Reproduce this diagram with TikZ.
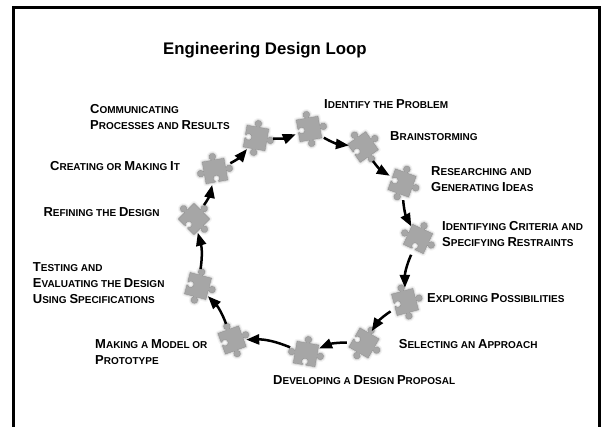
\documentclass[tikz,border=0pt]{standalone}
\usepackage{fontspec}
\setmainfont{Liberation Sans}
\usetikzlibrary{arrows.meta}
\definecolor{piecegray}{RGB}{156,156,156}
\newcommand\capL[1]{{\fontsize{13}{16}\selectfont #1}}
\tikzset{
  jig/.style={insert path={(-1,-1) -- (-0.2,-1) -- (-0.15,-1.05) arc[start angle=117, end angle=423, radius=0.3] -- (0.2,-1) -- (1,-1)
     -- (1,-0.2) -- (1.05,-0.15) arc[start angle=-153, end angle=153, radius=0.3] -- (1,0.2) -- (1,1)
     -- (0.2,1) -- (0.15,1.05) arc[start angle=-63, end angle=243, radius=0.3] -- (-0.2,1) -- (-1,1)
     -- (-1,0.2) -- (-0.95,0.15) arc[start angle=153, end angle=-153, radius=0.3] -- (-1,-0.2) -- cycle}},
  piece/.pic={
    \path[jig, draw=black!12, line width=5pt, opacity=0.35, line join=round];
    \path[jig, draw=black!25, line width=2.5pt, opacity=0.5, line join=round];
    \path[jig, fill=piecegray, draw=piecegray!85!black, line width=0.3pt, line join=round];
    \path[jig, fill=white, opacity=0.1, scale=0.7];
  },
  pc/.style={circle, minimum size=28pt, inner sep=0pt},
  arr/.style={line width=2.5pt, -{Triangle[length=13pt,width=10pt]}, shorten <=3pt},
  lbl/.style={anchor=base west, inner sep=0pt, align=left, font=\fontsize{10}{16}\selectfont\bfseries},
}
\begin{document}
\begin{tikzpicture}[x=1pt,y=-1pt]
\useasboundingbox (0,0) rectangle (604,427);
\draw[line width=3pt] (13.5,440) -- (13.5,8) -- (599.5,8) -- (599.5,440);
\node[anchor=base west, inner sep=0pt, font=\fontsize{16.8}{20}\selectfont\bfseries] (title) at (163,55) {Engineering Design Loop};
% pieces
\node[pc] (p1) at (309,129) {};
\node[pc] (p2) at (363,147) {};
\node[pc] (p3) at (402,183) {};
\node[pc] (p4) at (418,239) {};
\node[pc] (p5) at (405,302) {};
\node[pc] (p6) at (364,343) {};
\node[pc] (p7) at (306,354) {};
\node[pc] (p8) at (232,340) {};
\node[pc] (p9) at (198,286) {};
\node[pc] (p10) at (194,219) {};
\node[pc] (p11) at (215,171) {};
\node[pc] (p12) at (256,138) {};
\pic[rotate=10, scale=11] at (p1) {piece};
\pic[rotate=35, scale=11] at (p2) {piece};
\pic[rotate=-20, scale=11] at (p3) {piece};
\pic[rotate=65, scale=11] at (p4) {piece};
\pic[rotate=15, scale=11] at (p5) {piece};
\pic[rotate=-30, scale=11] at (p6) {piece};
\pic[rotate=80, scale=11] at (p7) {piece};
\pic[rotate=20, scale=11] at (p8) {piece};
\pic[rotate=-15, scale=11] at (p9) {piece};
\pic[rotate=45, scale=11] at (p10) {piece};
\pic[rotate=100, scale=11] at (p11) {piece};
\pic[rotate=-10, scale=11] at (p12) {piece};
% arrows
\draw[arr] (p12) to[bend right=12] (p1);
\draw[arr] (p1) to[bend right=12] (p2);
\draw[arr] (p2) to[bend right=12] (p3);
\draw[arr] (p3) to[bend right=12] (p4);
\draw[arr] (p4) to[bend right=12] (p5);
\draw[arr] (p5) to[bend right=12] (p6);
\draw[arr] (p6) to[bend right=12] (p7);
\draw[arr] (p7) to[bend right=12] (p8);
\draw[arr] (p8) to[bend right=12] (p9);
\draw[arr] (p9) to[bend right=12] (p10);
\draw[arr] (p10) to[bend right=12] (p11);
\draw[arr] (p11) to[bend right=12] (p12);
% labels (base = last line)
\node[lbl] (t1) at (324,108.3) {\capL{I}DENTIFY THE \capL{P}ROBLEM};
\node[lbl] (t2) at (390,140.5) {\capL{B}RAINSTORMING};
\node[lbl] (t3) at (431,191.7) {\capL{R}ESEARCHING AND\\\capL{G}ENERATING \capL{I}DEAS};
\node[lbl] (t4) at (442,246.7) {\capL{I}DENTIFYING \capL{C}RITERIA AND\\\capL{S}PECIFYING \capL{R}ESTRAINTS};
\node[lbl] (t5) at (427,302.3) {\capL{E}XPLORING \capL{P}OSSIBILITIES};
\node[lbl] (t6) at (398.7,348) {\capL{S}ELECTING AN \capL{A}PPROACH};
\node[lbl] (t7) at (273,384.7) {\capL{D}EVELOPING A \capL{D}ESIGN \capL{P}ROPOSAL};
\node[lbl] (t8) at (95,364) {\capL{M}AKING A \capL{M}ODEL OR\\\capL{P}ROTOTYPE};
\node[lbl] (t9) at (32.7,303.3) {\capL{T}ESTING AND\\\capL{E}VALUATING THE \capL{D}ESIGN\\\capL{U}SING \capL{S}PECIFICATIONS};
\node[lbl] (t10) at (43.3,217) {\capL{R}EFINING THE \capL{D}ESIGN};
\node[lbl] (t11) at (50,170.7) {\capL{C}REATING OR \capL{M}AKING \capL{I}T};
\node[lbl] (t12) at (90,130) {\capL{C}OMMUNICATING\\\capL{P}ROCESSES AND \capL{R}ESULTS};
\end{tikzpicture}
\end{document}
